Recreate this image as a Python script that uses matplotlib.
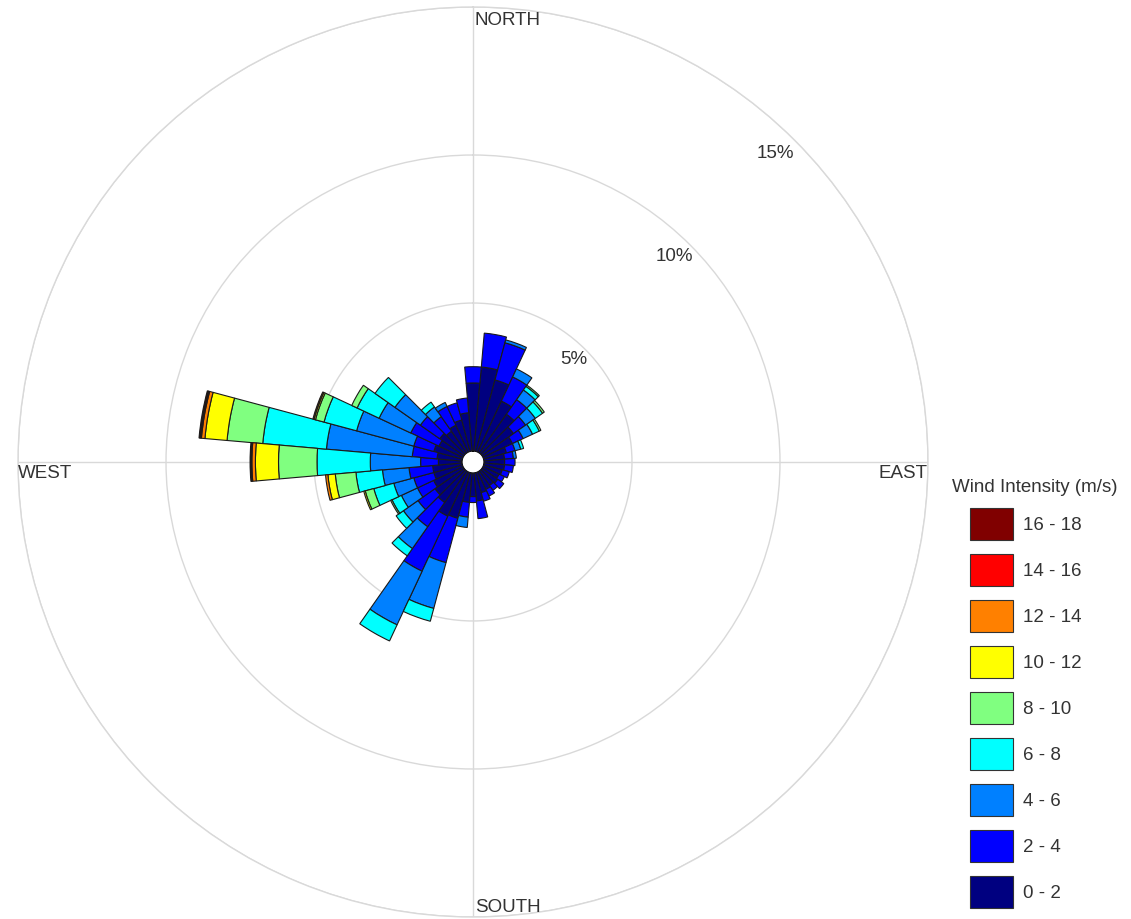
import numpy as np
import matplotlib
matplotlib.use("Agg")
import matplotlib.pyplot as plt
from matplotlib.patches import Patch

plt.rcParams['font.family'] = ['Liberation Sans', 'DejaVu Sans']

# ---------------- data ----------------
directions = np.arange(0, 360, 10)  # compass degrees, bin centres
speed_labels = ["0 - 2", "2 - 4", "4 - 6", "6 - 8", "8 - 10",
                "10 - 12", "12 - 14", "14 - 16", "16 - 18"]
speed_colors = ["#000080", "#0000FF", "#0080FF", "#00FFFF", "#80FF80",
                "#FFFF00", "#FF8000", "#FF0000", "#800000"]

# frequency (%) per direction for each speed class
s0_2 = [2.30, 2.85, 2.50, 1.90, 1.60, 1.30, 1.10, 0.80, 0.70, 0.70, 0.70, 0.65,
        0.60, 0.65, 0.60, 0.65, 0.70, 0.95, 0.80, 1.00, 1.60, 1.65, 1.30, 1.20,
        1.10, 1.00, 1.00, 0.80, 0.85, 1.00, 0.90, 1.00, 0.90, 1.00, 1.10, 1.30]
s2_4 = [0.55, 1.15, 1.30, 0.90, 0.60, 0.50, 0.40, 0.30, 0.30, 0.35, 0.30, 0.25,
        0.20, 0.25, 0.20, 0.25, 0.30, 0.60, 0.20, 0.50, 1.55, 2.05, 1.00, 0.70,
        0.60, 0.70, 0.80, 0.60, 0.84, 0.70, 1.05, 0.80, 0.60, 0.70, 0.60, 0.50]
s4_6 = [0.00, 0.00, 0.10, 0.30, 0.40, 0.40, 0.35, 0.20, 0.10, 0.00, 0.00, 0.00,
        0.00, 0.00, 0.00, 0.00, 0.00, 0.00, 0.00, 0.35, 1.60, 2.00, 0.90, 0.60,
        0.60, 0.70, 0.90, 1.70, 2.91, 2.00, 1.18, 1.05, 0.40, 0.15, 0.00, 0.00]
s6_8 = [0.00, 0.00, 0.00, 0.00, 0.15, 0.30, 0.25, 0.10, 0.00, 0.00, 0.00, 0.00,
        0.00, 0.00, 0.00, 0.00, 0.00, 0.00, 0.00, 0.00, 0.45, 0.60, 0.30, 0.30,
        0.35, 0.70, 0.90, 1.80, 2.16, 1.14, 0.82, 0.82, 0.20, 0.00, 0.00, 0.00]
s8_10 = [0.00, 0.00, 0.00, 0.00, 0.05, 0.07, 0.06, 0.00, 0.00, 0.00, 0.00, 0.00,
         0.00, 0.00, 0.00, 0.00, 0.00, 0.00, 0.00, 0.00, 0.00, 0.00, 0.00, 0.00,
         0.05, 0.30, 0.70, 1.30, 1.21, 0.30, 0.20, 0.00, 0.00, 0.00, 0.00, 0.00]
s10_12 = [0.00] * 25 + [0.05, 0.25, 0.78, 0.75, 0.05, 0.00, 0.00, 0.00, 0.00, 0.00, 0.00]
s12_14 = [0.00] * 26 + [0.08, 0.12, 0.12, 0.04, 0.00, 0.00, 0.00, 0.00, 0.00, 0.00]
s14_16 = [0.00] * 27 + [0.03, 0.04, 0.00, 0.00, 0.00, 0.00, 0.00, 0.00, 0.00]
s16_18 = [0.00] * 27 + [0.03, 0.04, 0.00, 0.00, 0.00, 0.00, 0.00, 0.00, 0.00]

speed_values = [s0_2, s2_4, s4_6, s6_8, s8_10, s10_12, s12_14, s14_16, s16_18]

ring_values = [5, 10, 15]
ring_labels = ["5%", "10%", "15%"]
cardinal_labels = ["NORTH", "EAST", "SOUTH", "WEST"]
legend_title = "Wind Intensity (m/s)"

# ---------------- figure ----------------
W, H = 1131, 919
fig = plt.figure(figsize=(W / 100, H / 100), dpi=100)
ax = fig.add_axes([18 / W, 2 / H, 910 / W, 910 / H], projection="polar")
ax.set_theta_zero_location("N")
ax.set_theta_direction(-1)
ax.set_ylim(0, 15)
ax.set_rorigin(-0.37)
ax.set_axisbelow(True)

grid_color = "#d9d9d9"
ax.set_thetagrids([0, 90, 180, 270], labels=[""] * 4)
ax.set_rgrids(ring_values, labels=[""] * len(ring_values))
ax.grid(True, color=grid_color, linewidth=1.0)
ax.spines["polar"].set_color(grid_color)
ax.spines["polar"].set_linewidth(1.0)
for k in ("inner", "start", "end"):
    if k in ax.spines:
        ax.spines[k].set_visible(False)
ax.tick_params(length=0)

theta = np.deg2rad(directions)
width = np.deg2rad(10)
bottom = np.zeros(len(directions))
for vals, col in zip(speed_values, speed_colors):
    vals = np.asarray(vals, dtype=float)
    mask = vals > 0
    ax.bar(theta[mask], vals[mask], width=width, bottom=bottom[mask],
           color=col, edgecolor="#1a1a1a", linewidth=0.8, align="center",
           zorder=3)
    bottom += vals

# ring labels
for v, lab in zip(ring_values, ring_labels):
    ax.text(np.deg2rad(44.4), 0.975 * v - 0.4, lab, ha="center", va="center",
            fontsize=13.5, color="#333333", zorder=5)

# cardinal labels
txt_kw = dict(fontsize=13.5, color="#333333", transform=ax.transAxes, zorder=5)
ax.text(0.502, 0.9857, cardinal_labels[0], ha="left", va="center", **txt_kw)
ax.text(0.999, 0.4879, cardinal_labels[1], ha="right", va="center", **txt_kw)
ax.text(0.502, 0.0099, cardinal_labels[2], ha="left", va="center", **txt_kw)
ax.text(0.000, 0.4879, cardinal_labels[3], ha="left", va="center", **txt_kw)

# legend
handles = [Patch(facecolor=c, edgecolor="#333333", linewidth=0.8)
           for c in speed_colors][::-1]
labels = speed_labels[::-1]
fs = 13.5
fpx = fs * 100 / 72
hh = (32 / fpx - 0.245) / 0.65
fig.text(952 / W, 1 - 487 / H, legend_title, ha="left", va="center",
         fontsize=fs, color="#333333")
fig.legend(handles, labels, loc="upper left",
           bbox_to_anchor=(970 / W, 1 - 508 / H), frameon=False,
           fontsize=fs, handlelength=43 / fpx, handleheight=hh,
           labelspacing=14 / fpx, handletextpad=10 / fpx,
           borderpad=0, borderaxespad=0, labelcolor="#333333")

fig.savefig("out.png", dpi=100, facecolor="white")
